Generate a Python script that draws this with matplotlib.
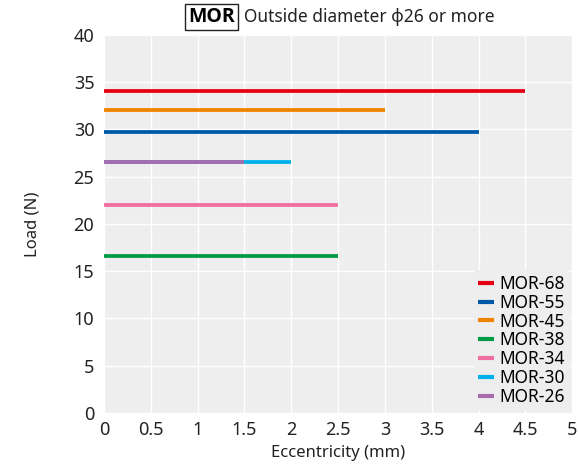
import matplotlib.pyplot as plt

plt.rcParams['font.family'] = ['Noto Sans', 'DejaVu Sans']

models = ['MOR-68', 'MOR-55', 'MOR-45', 'MOR-38', 'MOR-34', 'MOR-30', 'MOR-26']
loads = [34.1, 29.7, 32.0, 16.6, 22.0, 26.5, 26.5]
max_ecc = [4.5, 4.0, 3.0, 2.5, 2.5, 2.0, 1.5]
colors = ['#E60012', '#0058A8', '#F08300', '#009944', '#F06EA0', '#00B0EC', '#A86CAE']

fig = plt.figure(figsize=(5.78, 4.65), dpi=100)
ax = fig.add_axes([0.18, 0.112, 0.81, 0.813])
ax.set_facecolor('#EEEEEE')

for name, y, x1, c in zip(models, loads, max_ecc, colors):
    ax.plot([0, x1], [y, y], color=c, lw=2.7, label=name, solid_capstyle='butt')

ax.set_xlim(0, 5)
ax.set_ylim(0, 40)
ax.set_xticks([0, 0.5, 1, 1.5, 2, 2.5, 3, 3.5, 4, 4.5, 5])
ax.set_xticklabels(['0', '0.5', '1', '1.5', '2', '2.5', '3', '3.5', '4', '4.5', '5'])
ax.set_yticks(range(0, 41, 5))
ax.grid(True, color='white', lw=1)
ax.set_axisbelow(True)
for s in ax.spines.values():
    s.set_visible(False)
ax.tick_params(length=0, labelsize=13, colors='#222222')
ax.tick_params(axis='x', pad=6)
ax.tick_params(axis='y', pad=7)
ax.set_xlabel('Eccentricity (mm)', fontsize=12, color='#222222', labelpad=4)
ax.set_ylabel('Load (N)', fontsize=12, color='#222222', labelpad=24)

leg = ax.legend(loc='lower right', frameon=True, fontsize=12.5, handlelength=0.9,
                handletextpad=0.35, labelspacing=0.05, borderaxespad=0.15, borderpad=0.25)
leg.get_frame().set_facecolor('#EEEEEE')
leg.get_frame().set_edgecolor('none')
leg.get_frame().set_alpha(1)
for h in leg.get_lines():
    h.set_linewidth(3)

fig.text(0.325, 0.963, 'MOR', fontsize=14, fontweight='bold', family=['Open Sans', 'DejaVu Sans'],
         va='center', ha='left',
         bbox=dict(boxstyle='square,pad=0.15', fc='white', ec='#222222', lw=1))
fig.text(0.422, 0.963, 'Outside diameter \u03d526 or more', fontsize=12.5, va='center', ha='left',
         color='#222222')

fig.savefig('out.png', dpi=100)
